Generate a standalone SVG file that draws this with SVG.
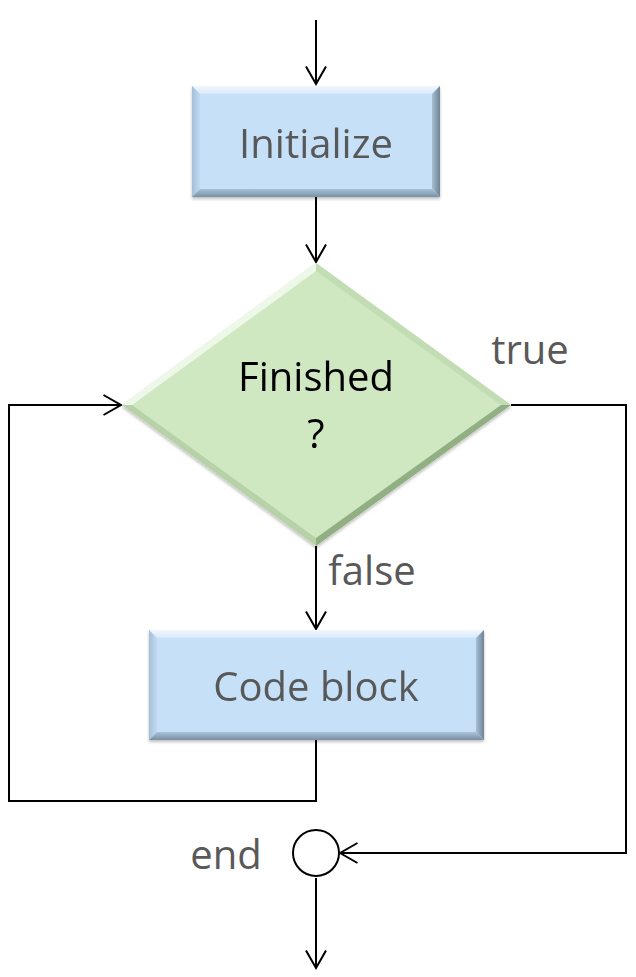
<svg xmlns="http://www.w3.org/2000/svg" width="636" height="977" viewBox="0 0 636 977">
<style>
.c{fill:none;stroke:#000;stroke-width:2}
.lbl{font-family:"Open Sans","Liberation Sans",sans-serif;font-size:40px;fill:#595959}
.dark{fill:#000}
</style>
<defs>
<marker id="a" viewBox="0 0 20 24" refX="18.5" refY="12" markerWidth="20" markerHeight="24" markerUnits="userSpaceOnUse" orient="auto">
<path d="M1,2 L18.5,12 L1,22" fill="none" stroke="#000" stroke-width="2"/>
</marker>
<linearGradient id="rtop" x1="0" y1="0" x2="0" y2="1"><stop offset="0" stop-color="#f2f8fd"/><stop offset="1" stop-color="#d6e9f9"/></linearGradient>
<linearGradient id="rleft" x1="0" y1="0" x2="1" y2="0"><stop offset="0" stop-color="#a4c0d8"/><stop offset="1" stop-color="#c0daf1"/></linearGradient>
<linearGradient id="rright" x1="0" y1="0" x2="1" y2="0"><stop offset="0" stop-color="#a6bfd4"/><stop offset="1" stop-color="#6f8496"/></linearGradient>
<linearGradient id="rbot" x1="0" y1="0" x2="0" y2="1"><stop offset="0" stop-color="#a9c2d7"/><stop offset="1" stop-color="#7a91a4"/></linearGradient>
<filter id="sh" x="-10%" y="-10%" width="120%" height="130%">
<feDropShadow dx="0" dy="2" stdDeviation="1.5" flood-color="#000" flood-opacity="0.25"/>
</filter>
</defs>
<rect width="636" height="977" fill="#fff"/>
<g id="connectors">
<path class="c" d="M316,20 V84" marker-end="url(#a)"/>
<path class="c" d="M316,197 V262" marker-end="url(#a)"/>
<path class="c" d="M316,546 V629" marker-end="url(#a)"/>
<path class="c" d="M316,740 V801 H9 V405 H121" marker-end="url(#a)"/>
<path class="c" d="M511,405 H626 V853 H340" marker-end="url(#a)"/>
<path class="c" d="M316,878 V968" marker-end="url(#a)"/>
</g>
<g id="initialize" filter="url(#sh)">
<rect x="192" y="86" width="248" height="111" fill="#c5e0f7"/>
<polygon points="192,86 440,86 432,94 200,94" fill="url(#rtop)"/>
<polygon points="192,86 200,94 200,189 192,197" fill="url(#rleft)"/>
<polygon points="440,86 440,197 432,189 432,94" fill="url(#rright)"/>
<polygon points="192,197 440,197 432,189 200,189" fill="url(#rbot)"/>
<text class="lbl" x="316" y="158" text-anchor="middle">Initialize</text>
</g>
<g id="finished" filter="url(#sh)">
<polygon points="316,263 511,405 316,546 122,405" fill="#d0e8c2"/>
<polygon points="316,263 122,405 132,405 316,271" fill="#eef8e8"/>
<polygon points="316,263 511,405 501,405 316,271" fill="#c2dcb3"/>
<polygon points="122,405 316,546 316,538 132,405" fill="#b7d2a8"/>
<polygon points="511,405 316,546 316,538 501,405" fill="#91af82"/>
<text class="lbl dark" x="316" y="391" text-anchor="middle">Finished</text>
<text class="lbl dark" x="316" y="448" text-anchor="middle">?</text>
</g>
<g id="codeblock" filter="url(#sh)">
<rect x="149" y="630" width="335" height="110" fill="#c5e0f7"/>
<polygon points="149,630 484,630 476,638 157,638" fill="url(#rtop)"/>
<polygon points="149,630 157,638 157,732 149,740" fill="url(#rleft)"/>
<polygon points="484,630 484,740 476,732 476,638" fill="url(#rright)"/>
<polygon points="149,740 484,740 476,732 157,732" fill="url(#rbot)"/>
<text class="lbl" x="316" y="701" text-anchor="middle">Code block</text>
</g>
<g id="end">
<circle cx="316" cy="853" r="23" fill="#fff" stroke="#000" stroke-width="2"/>
<text class="lbl" x="226" y="869" text-anchor="middle">end</text>
</g>
<g id="labels">
<text class="lbl" x="530" y="364" text-anchor="middle">true</text>
<text class="lbl" x="372" y="585" text-anchor="middle">false</text>
</g>
</svg>
